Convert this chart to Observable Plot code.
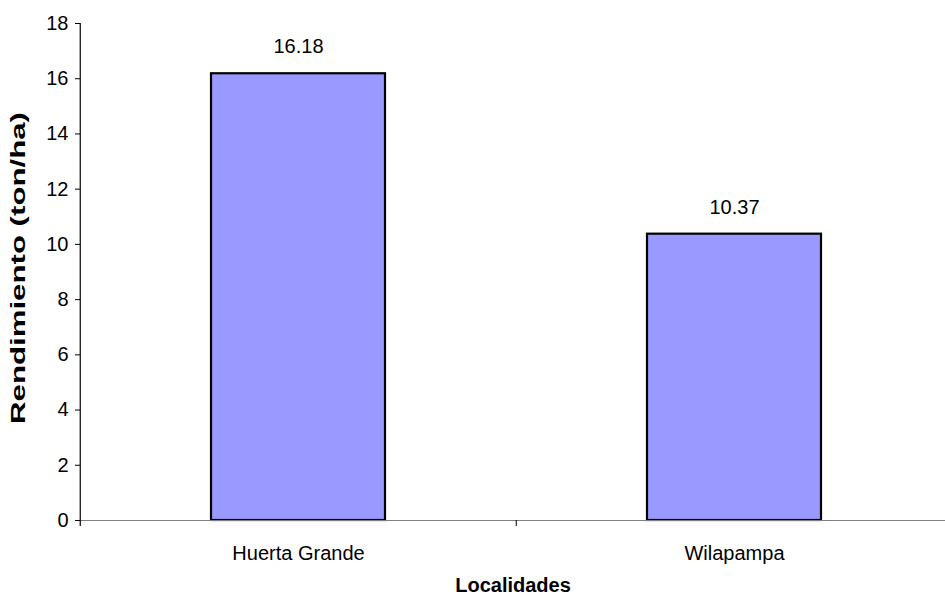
<!DOCTYPE html>
<html>
<head>
<meta charset="utf-8">
<script src="https://cdn.jsdelivr.net/npm/d3@7"></script>
<script src="https://cdn.jsdelivr.net/npm/@observablehq/plot@0.6"></script>
<style>
  html, body { margin: 0; padding: 0; background: #fff; }
  #chart svg { display: block; overflow: hidden; }
</style>
</head>
<body>
<div id="chart"></div>
<script>
// Rendimiento por localidad (ton/ha)
const localidades = ["Huerta Grande", "Wilapampa"];
const rendimiento = [16.18, 10.37];
const yTicks = [0, 2, 4, 6, 8, 10, 12, 14, 16, 18];
const yTitle = "Rendimiento (ton/ha)";
const xTitle = "Localidades";

const data = localidades.map((l, i) => ({localidad: l, valor: rendimiento[i]}));

const W = 945, H = 598;
const plotLeft = 80, plotTop = 23, plotBottom = 520;
const xRight = 953;               // category axis runs slightly past the right edge
const step = (xRight - plotLeft) / localidades.length;
const font = "'Liberation Sans', Arial, sans-serif";

const chart = Plot.plot({
  width: W,
  height: H,
  marginLeft: plotLeft,
  marginRight: 0,
  marginTop: plotTop,
  marginBottom: H - plotBottom,
  style: {fontFamily: font, fontSize: "20px", color: "#000", background: "#fff"},
  x: {domain: localidades, range: [plotLeft, xRight], paddingInner: 0.6, paddingOuter: 0.3, align: 0.5},
  y: {domain: [0, 18], range: [plotBottom, plotTop]},
  marks: [
    // bars
    Plot.barY(data, {x: "localidad", y: "valor", fill: "#9999FF", stroke: "#000", strokeWidth: 2.2}),
    // category axis line
    Plot.ruleY([0], {stroke: "#808080", strokeWidth: 1.2}),
    // value axis line (at the left edge of the first category)
    Plot.ruleX([localidades[0]], {dx: -step / 2, insetBottom: -6, stroke: "#000", strokeWidth: 1.2}),
    // tick mark between categories
    Plot.ruleX([localidades[1]], {dx: -step / 2, insetTop: plotBottom - plotTop, insetBottom: -6, stroke: "#000", strokeWidth: 1}),
    // value axis ticks and labels
    Plot.axisY(yTicks, {tickSize: 5, tickPadding: 7, fontSize: 20, label: null}),
    Plot.axisX({tickSize: 0, tickPadding: 25, fontSize: 20, label: null}),
    // value labels
    Plot.text(data, {x: "localidad", y: "valor", text: d => d.valor.toFixed(2), dy: -27, fontSize: 20}),
    // axis titles
    Plot.text([yTitle], {frameAnchor: "left", textAnchor: "middle", dx: -62, dy: -4, rotate: -90, fontSize: 20, fontWeight: "bold"}),
    Plot.text([xTitle], {frameAnchor: "bottom", dy: 71, fontSize: 20, fontWeight: "bold"})
  ]
});

// the vertical title is set wider along its baseline
d3.select(chart).selectAll("text")
  .filter(function() { return this.textContent === yTitle; })
  .attr("textLength", 312)
  .attr("lengthAdjust", "spacingAndGlyphs");

document.getElementById("chart").append(chart);
</script>
</body>
</html>
